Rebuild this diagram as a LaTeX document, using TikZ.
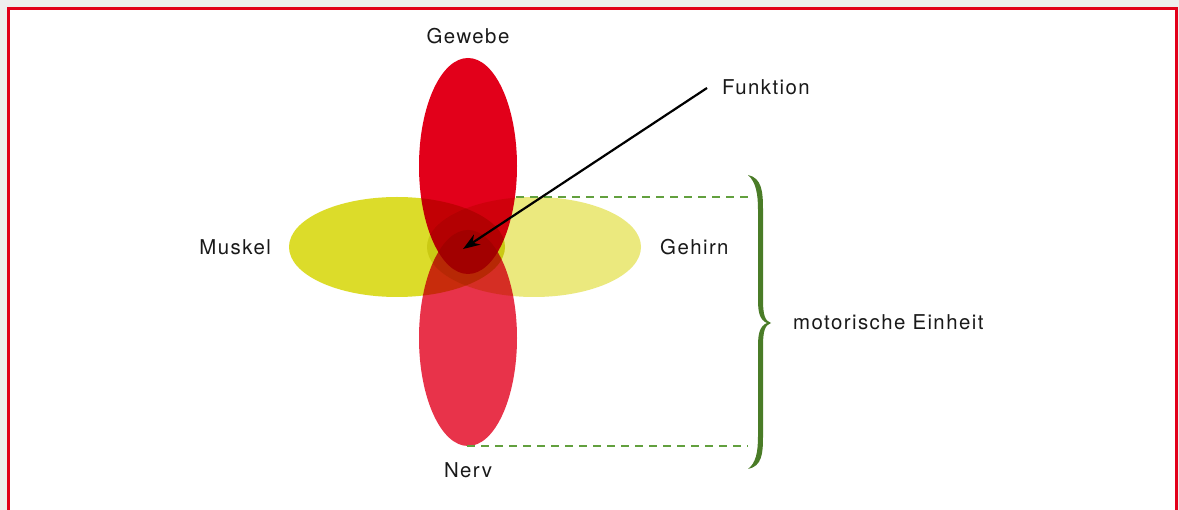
\documentclass[tikz,border=0pt]{standalone}
\usepackage{fontspec}
\setmainfont{TeX Gyre Heros}[LetterSpace=7]
\usetikzlibrary{arrows.meta}
\definecolor{frame}{HTML}{E2001A}
\definecolor{gewebe}{HTML}{E2001A}
\definecolor{nerv}{HTML}{E8334A}
\definecolor{muskel}{HTML}{DCDC2A}
\definecolor{gehirn}{HTML}{EBE97E}
\definecolor{dashgreen}{HTML}{62A03E}
\definecolor{bracegreen}{HTML}{4A7C27}
\definecolor{outer}{HTML}{EEEEEE}
\tikzset{
  lbl/.style={font=\fontsize{20.4}{24}\selectfont, text=black!90, inner sep=0pt},
  petal/.style={blend mode=multiply},
  guide/.style={draw=dashgreen, line width=1.3pt, dash pattern=on 8pt off 6pt},
  pointer/.style={draw=black, line width=2.2pt, -{Stealth[length=17pt,width=12pt]}},
}
\begin{document}
\begin{tikzpicture}[x=1pt,y=-1pt]
\useasboundingbox (0,0) rectangle (1179,510);
\fill[outer] (0,0) rectangle (1179,510);
\fill[white] (8,9) rectangle (1176,515);
\draw[frame, line width=3pt] (8,9) rectangle (1176,530);

% petals
\fill[muskel, petal] (397,247) ellipse [x radius=108pt, y radius=50pt];
\fill[gehirn, petal] (534,247) ellipse [x radius=107pt, y radius=50pt];
\fill[gewebe, petal] (468,166) ellipse [x radius=49pt, y radius=108pt];
\fill[nerv, petal] (468,338) ellipse [x radius=49pt, y radius=108pt];

\coordinate (center) at (463,249);
\coordinate (gtop) at (516,197);
\coordinate (gbot) at (467,446);
\coordinate (btop) at (748,197);
\coordinate (bbot) at (748,446);

% dashed guides
\draw[guide] (gtop) -- (btop);
\draw[guide] (gbot) -- (bbot);

% brace
\fill[bracegreen] (748,175) .. controls (762,178) and (763,192) .. (763,210)
  -- (763,300) .. controls (763,315) and (765,321) .. (771,323)
  .. controls (765,325) and (763,331) .. (763,346)
  -- (763,436) .. controls (763,454) and (762,466) .. (748,469)
  .. controls (756,463) and (758,452) .. (758,436)
  -- (758,346) .. controls (758,333) and (760,326) .. (767,323)
  .. controls (760,320) and (758,313) .. (758,300)
  -- (758,210) .. controls (758,194) and (756,182) .. (748,175) -- cycle;

% labels
\node[lbl, anchor=base] (gewebe) at (468,44) {Gewebe};
\node[lbl, anchor=base west] (funktion) at (722,95) {Funktion};
\node[lbl, anchor=base east] (muskel) at (271,255) {Muskel};
\node[lbl, anchor=base west] (gehirn) at (660,255) {Gehirn};
\node[lbl, anchor=base west] (einheit) at (793,330) {motorische Einheit};
\node[lbl, anchor=base] (nervl) at (468,478) {Nerv};

\coordinate (fstart) at (707,88);
\draw[pointer] (fstart) -- (center);
\end{tikzpicture}
\end{document}
